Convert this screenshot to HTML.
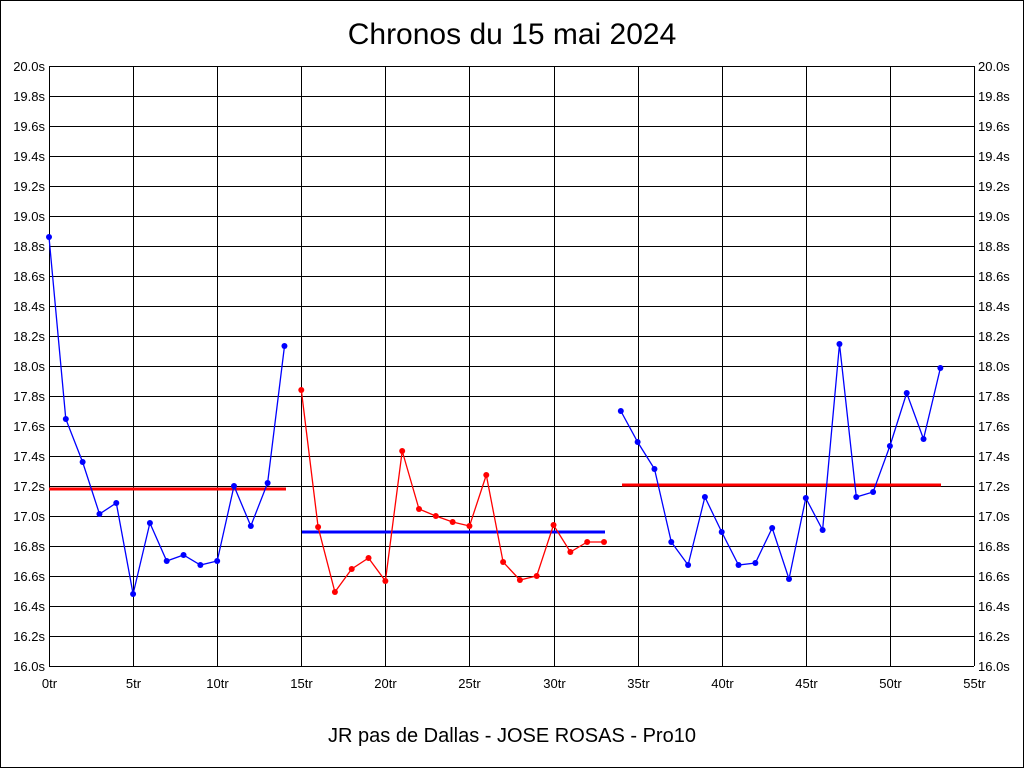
<!DOCTYPE html>
<html><head><style>body{margin:0;background:#fff}svg{display:block}</style></head><body>
<svg id="s" width="1024" height="768" xmlns="http://www.w3.org/2000/svg" font-family="Liberation Sans, sans-serif">
<rect x="0.5" y="0.5" width="1023" height="767" fill="#fff" stroke="#000"/>
<text x="512" y="44" font-size="30" text-anchor="middle">Chronos du 15 mai 2024</text>
<text x="512" y="742" font-size="20" text-anchor="middle">JR pas de Dallas - JOSE ROSAS - Pro10</text>
<g id="g"></g>
</svg>
<script>
var g=document.getElementById('g'),h='';
function X(i){return 49+i*925/55}
for(var k=0;k<=20;k++){var y=66+k*30;h+='<line x1="49" y1="'+(y+.5)+'" x2="974" y2="'+(y+.5)+'" stroke="#000"/>';
var v=(20-k*0.2).toFixed(1)+'s';h+='<text x="45" y="'+(y+5)+'" font-size="13" text-anchor="end">'+v+'</text><text x="978" y="'+(y+5)+'" font-size="13">'+v+'</text>';}
for(var k=0;k<=11;k++){var x=Math.round(X(k*5))+.5;h+='<line x1="'+x+'" y1="66" x2="'+x+'" y2="666" stroke="#000"/><text x="'+x+'" y="688" font-size="13" text-anchor="middle">'+(k*5)+'tr</text>';}
var A=[237,419,462,514,503,594,523,561,555,565,561,486,526,483,346];
var B=[390,527,592,569,558,581,451,509,516,522,526,475,562,580,576,525,552,542,542];
var C=[411,442,469,542,565,497,532,565,563,528,579,498,530,344,497,492,446,393,439,368];
function ser(a,s,c){var p=a.map(function(y,i){return X(s+i).toFixed(1)+','+y}).join(' ');h+='<polyline points="'+p+'" fill="none" stroke="'+c+'" stroke-width="1.3"/>';a.forEach(function(y,i){h+='<circle cx="'+X(s+i)+'" cy="'+y+'" r="3" fill="'+c+'"/>'});}
h+='<line x1="49" y1="489" x2="286" y2="489" stroke="#f00" stroke-width="3"/><line x1="302" y1="532" x2="605" y2="532" stroke="#00f" stroke-width="3"/><line x1="622" y1="485" x2="941" y2="485" stroke="#f00" stroke-width="3"/>';
ser(A,0,'#00f');ser(B,15,'#f00');ser(C,34,'#00f');
g.innerHTML=h;
</script>
</body></html>
